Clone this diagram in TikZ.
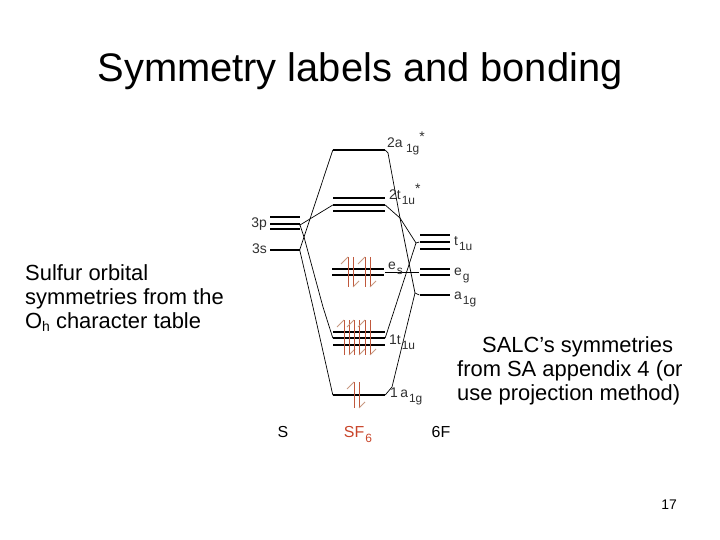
\documentclass[tikz,border=0pt]{standalone}
\usepackage{fontspec}
\setmainfont{Liberation Sans}
\newcommand{\lowsub}[1]{\raisebox{-5bp}{\fontsize{12}{12}\selectfont\kern1bp #1}}
\newcommand{\highstar}{\raisebox{6bp}{*}}
\definecolor{spinred}{HTML}{C0583C}
\definecolor{barbred}{HTML}{C89880}
\definecolor{tagred}{HTML}{C8452A}
\definecolor{labelgray}{HTML}{303030}
\tikzset{
  orbital/.style = {fill = black, inner sep = 0, minimum height = 2.8bp},
  wide/.style = {orbital, minimum width = 52bp},
  narrow/.style = {orbital, minimum width = 30bp},
  mo/.style = {text = labelgray, anchor = base west, inner sep = 0,
               font = \fontsize{14}{14}\selectfont},
  para/.style = {anchor = base west, inner sep = 0, align = left,
                 font = \fontsize{22}{23.6}\selectfont},
  tag/.style = {anchor = base, inner sep = 0, font = \fontsize{16}{16}\selectfont},
  link/.style = {line width = .7bp},
  spin/.style = {spinred, line width = 1bp},
  barb/.style = {barbred, line width = .8bp}
}
\begin{document}
\begin{tikzpicture}[x = 1bp, y = -1bp]
  \useasboundingbox (0,0) rectangle (720,540);
  \node (title) [anchor = base, inner sep = 0, font = \fontsize{40}{40}\selectfont]
    at (360,82) {Symmetry labels and bonding};
  % sulfur side
  \foreach \y/\n in {217/a,224/b,229/c}
    \node (p\n) [narrow] at (284.5,\y) {};
  \node (s) [narrow] at (284.5,250) {};
  % molecular orbitals
  \node (ag) [wide] at (359,150) {};
  \foreach \y/\n in {198/a,205/b,211/c}
    \node (tu\n) [wide] at (359,\y) {};
  \foreach \y/\n in {269/a,275/b}
    \node (es\n) [wide] at (358,\y) {};
  \foreach \y/\n in {332/a,338/b,345/c}
    \node (lt\n) [wide] at (359,\y) {};
  \node (la) [wide] at (359,395) {};
  % fluorine side
  \foreach \y/\n in {235/a,242/b,249/c}
    \node (ft\n) [narrow] at (434.5,\y) {};
  \foreach \y/\n in {269/a,275/b}
    \node (fe\n) [narrow] at (434.5,\y) {};
  \node (fa) [narrow] at (434.5,295) {};
  % electrons
  \foreach \x/\t/\b in {348/257/287,365/257/287,
                        344/320/355,354/320/355,365/320/355,
                        354/382/408}
    {
      \draw [spin] (\x,\t) -- (\x,\b);
      \draw [spin] (\x+5,\t) -- (\x+5,\b);
      \draw [barb] (\x,\t) --++ (-7,7);
      \draw [barb] (\x+5,\b) --++ (6,-6);
    }
  % connectors
  \coordinate (pk) at (300,225);
  \coordinate (cross) at (304,237);
  \coordinate (pm) at (323,307);
  \coordinate (sm) at (313,307);
  \coordinate (tk) at (400,218);
  \coordinate (ftk) at (416,243);
  \coordinate (fak) at (415,293);
  \coordinate (lak) at (392,387);
  \coordinate (agk) at (388,153);
  \coordinate (esm) at (385,272);
  \coordinate (fem) at (419,272);
  \draw [link] (pb.east) -- (pk) -- (tub.west);
  \draw [link] (pk) -- (cross) -- (pm) -- (ltb.west);
  \draw [link] (s.east) -- (cross) -- (ag.west);
  \draw [link] (s.east) -- (sm) -- (la.west);
  \draw [link] (ag.east) -- (agk) -- (tk) -- (fak) -- (fa.west);
  \draw [link] (tub.east) -- (tk) -- (ftk) -- (ftb.west);
  \draw [link] (ltb.east) -- (ftk);
  \draw [link] (la.east) -- (lak) -- (fak);
  \draw [link] (esm) -- (fem);
  % labels
  \node (l3p) [mo, anchor = base east] at (267,228) {3p};
  \node (l3s) [mo, anchor = base east] at (267,254) {3s};
  \node (lag) [mo] at (387,148) {2a\,\lowsub{1g}\highstar};
  \node (ltu) [mo] at (389,200) {2t\lowsub{1u}\highstar};
  \node (les) [mo] at (388,270) {e\lowsub{s}};
  \node (llt) [mo] at (389,344) {1t\lowsub{1u}};
  \node (lla) [mo] at (390,397) {1\,a\lowsub{1g}};
  \node (lft) [mo] at (454,246) {t\lowsub{1u}};
  \node (lfe) [mo] at (454,276) {e\lowsub{g}};
  \node (lfa) [mo] at (454,299) {a\lowsub{1g}};
  \node (cs) [tag] at (283,437) {S};
  \node (csf) [tag, text = tagred] at (358,437) {SF\lowsub{6}};
  \node (cf) [tag] at (441,437) {6F};
  \node (left) [para] at (25,328)
    {Sulfur orbital\\symmetries from the\\O\raisebox{-3bp}{\fontsize{14}{14}\selectfont h} character table};
  \node (right) [para] at (457,400)
    {\hspace*{25bp}SALC’s symmetries\\from SA appendix 4 (or\\use projection method)};
  \node (page) [anchor = base, inner sep = 0, font = \fontsize{14}{14}\selectfont]
    at (669,509) {17};
\end{tikzpicture}
\end{document}
